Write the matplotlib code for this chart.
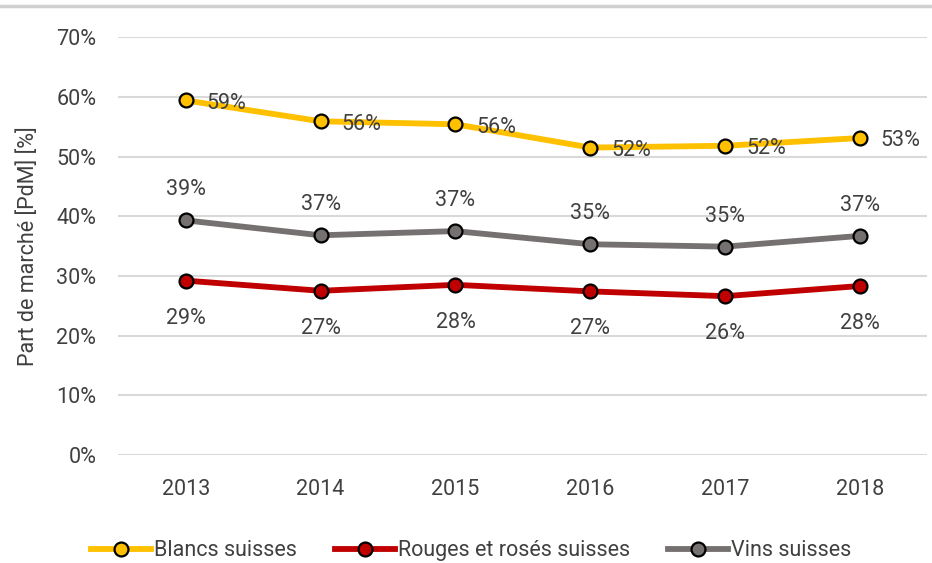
import numpy as np
import matplotlib.pyplot as plt
from matplotlib.lines import Line2D

years = ['2013', '2014', '2015', '2016', '2017', '2018']
blancs = [59.4, 55.9, 55.4, 51.5, 51.8, 53.1]
rouges = [29.2, 27.5, 28.5, 27.4, 26.6, 28.3]
vins = [39.3, 36.8, 37.5, 35.3, 34.9, 36.7]
blancs_lbl = ['59%', '56%', '56%', '52%', '52%', '53%']
rouges_lbl = ['29%', '27%', '28%', '27%', '26%', '28%']
vins_lbl = ['39%', '37%', '37%', '35%', '35%', '37%']

plt.rcParams['font.family'] = ['Roboto', 'DejaVu Sans']
txt = '#404040'

fig = plt.figure(figsize=(9.32, 5.63), dpi=100)
ax = fig.add_axes([0.127, 0.192, 0.868, 0.742])

x = np.arange(len(years))
series = [
    ('Blancs suisses', blancs, blancs_lbl, '#FFC000', (15, -2), 'left'),
    ('Rouges et rosés suisses', rouges, rouges_lbl, '#C00000', (0, -27), 'center'),
    ('Vins suisses', vins, vins_lbl, '#767171', (0, 22), 'center'),
]
for name, vals, lbls, col, off, ha in series:
    ax.plot(x, vals, color=col, lw=4.2, marker='o', ms=10, mfc=col,
            mec='black', mew=1.6, label=name, zorder=3)
    for xi, v, l in zip(x, vals, lbls):
        ax.annotate(l, (xi, v), xytext=off, textcoords='offset points',
                    ha=ha, va='center', fontsize=15.5, color=txt)

ax.set_xlim(-0.5, 5.5)
ax.set_ylim(0, 70)
ax.set_yticks(np.arange(0, 71, 10))
ax.set_yticklabels([f'{v}%' for v in range(0, 71, 10)])
ax.set_xticks(x)
ax.set_xticklabels(years)
ax.tick_params(length=0, labelsize=15.5, labelcolor=txt)
ax.tick_params(axis='y', pad=16)
ax.tick_params(axis='x', pad=17)
ax.grid(axis='y', color='#d9d9d9', lw=1.5)
ax.set_axisbelow(True)
for s in ax.spines.values():
    s.set_visible(False)
ax.set_ylabel('Part de marché [PdM] [%]', fontsize=15.5, color=txt, labelpad=12)

ax.legend(loc='center', bbox_to_anchor=(0.436, -0.23), ncol=3, frameon=False,
          fontsize=15.5, labelcolor=txt, handlelength=2.8, handletextpad=0.15,
          columnspacing=1.75)

fig.add_artist(Line2D([0, 1], [0.99, 0.99], color='#d0d0d0', lw=2.5,
                      transform=fig.transFigure))

fig.savefig('out.png', dpi=100)
